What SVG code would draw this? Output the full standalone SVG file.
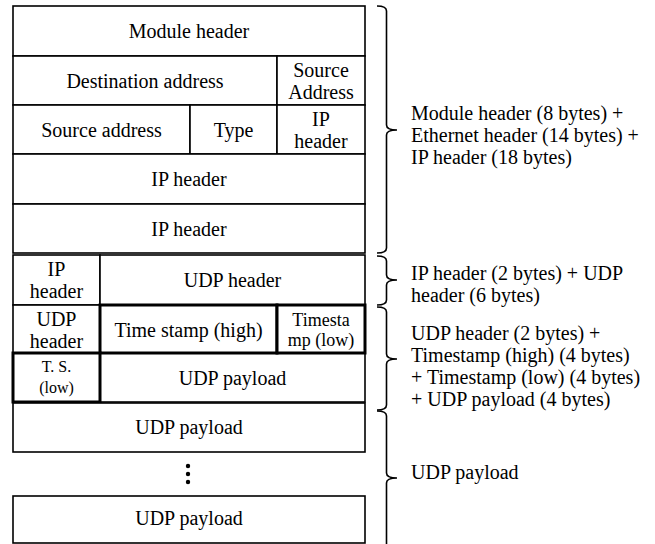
<svg xmlns="http://www.w3.org/2000/svg" width="655" height="544" viewBox="0 0 655 544">
<style>
.c{fill:#fff;stroke:#000;stroke-width:1.6}
.k{fill:none;stroke:#000;stroke-width:3}
.b{fill:none;stroke:#000;stroke-width:1.6}
</style>
<rect width="655" height="544" fill="#fff"/>
<g font-family="'Liberation Serif', 'Times New Roman', serif" font-size="20" fill="#000" text-anchor="middle">
<g id="module-header"><rect class="c" x="13" y="6" width="352" height="50"/><text x="189" y="38">Module header</text></g>
<g id="dest-address"><rect class="c" x="13" y="56" width="264" height="49"/><text x="145" y="88">Destination address</text></g>
<g id="source-address-1"><rect class="c" x="277" y="56" width="88" height="49"/><text x="321" y="77">Source</text><text x="321" y="99">Address</text></g>
<g id="source-address-2"><rect class="c" x="13" y="105" width="177" height="49"/><text x="101.5" y="137">Source address</text></g>
<g id="type"><rect class="c" x="190" y="105" width="87" height="49"/><text x="233.5" y="137">Type</text></g>
<g id="ip-header-1"><rect class="c" x="277" y="105" width="88" height="49"/><text x="321" y="126">IP</text><text x="321" y="148">header</text></g>
<g id="ip-header-2"><rect class="c" x="13" y="154" width="352" height="50"/><text x="189" y="186">IP header</text></g>
<g id="ip-header-3"><rect class="c" x="13" y="204" width="352" height="49"/><text x="189" y="236">IP header</text></g>
<g id="ip-header-4"><rect class="c" x="13" y="255" width="87" height="50"/><text x="56.5" y="276">IP</text><text x="56.5" y="298">header</text></g>
<g id="udp-header-1"><rect class="c" x="100" y="255" width="265" height="50"/><text x="232.5" y="287">UDP header</text></g>
<g id="udp-header-2"><rect class="c" x="13" y="305" width="87" height="48"/><text x="56.5" y="326">UDP</text><text x="56.5" y="348">header</text></g>
<g id="udp-payload-1"><rect class="c" x="100" y="353" width="265" height="49"/><text x="232.5" y="385">UDP payload</text></g>
<g id="ts-high"><rect class="c" x="100" y="305" width="177" height="48"/><rect class="k" x="100" y="305" width="177" height="48"/><text x="188.5" y="337">Time stamp (high)</text></g>
<g id="ts-low"><rect class="c" x="277" y="305" width="88" height="48"/><rect class="k" x="277" y="305" width="88" height="48"/><text x="321" y="326" font-size="18">Timesta</text><text x="321" y="346" font-size="18">mp (low)</text></g>
<g id="ts-low-2"><rect class="c" x="13" y="353" width="87" height="49"/><rect class="k" x="13" y="353" width="87" height="49"/><text x="56.5" y="372" font-size="16">T. S.</text><text x="56.5" y="393" font-size="16">(low)</text></g>
<g id="udp-payload-2"><rect class="c" x="13" y="403" width="352" height="49"/><text x="189" y="434">UDP payload</text></g>
<g id="ellipsis"><circle cx="188" cy="466" r="2.2"/><circle cx="188" cy="474" r="2.2"/><circle cx="188" cy="482" r="2.2"/></g>
<g id="udp-payload-3"><rect class="c" x="13" y="496" width="352" height="47"/><text x="189" y="525">UDP payload</text></g>
</g>
<g id="connectors">
<path class="b" d="M377,6 Q386.5,6 386.5,11 V125 Q386.5,130 397,130 Q386.5,130 386.5,135 V248 Q386.5,253 377,253"/>
<path class="b" d="M377,256 Q386.5,256 386.5,261 V275 Q386.5,280 397,280 Q386.5,280 386.5,285 V300 Q386.5,305 377,305"/>
<path class="b" d="M377,307 Q386.5,307 386.5,312 V354 Q386.5,359 397,359 Q386.5,359 386.5,364 V405 Q386.5,410 377,410"/>
<path class="b" d="M377,411 Q386.5,411 386.5,416 V473 Q386.5,478 397,478 Q386.5,478 386.5,483 V550"/>
</g>
<g id="labels" font-family="'Liberation Serif', 'Times New Roman', serif" font-size="20" fill="#000">
<text x="411" y="120">Module header (8 bytes) +</text>
<text x="411" y="142">Ethernet header (14 bytes) +</text>
<text x="411" y="164">IP header (18 bytes)</text>
<text x="411" y="280">IP header (2 bytes) + UDP</text>
<text x="411" y="302">header (6 bytes)</text>
<text x="411" y="340">UDP header (2 bytes) +</text>
<text x="411" y="362">Timestamp (high) (4 bytes)</text>
<text x="411" y="384">+ Timestamp (low) (4 bytes)</text>
<text x="411" y="406">+ UDP payload (4 bytes)</text>
<text x="411" y="479">UDP payload</text>
</g>
</svg>
